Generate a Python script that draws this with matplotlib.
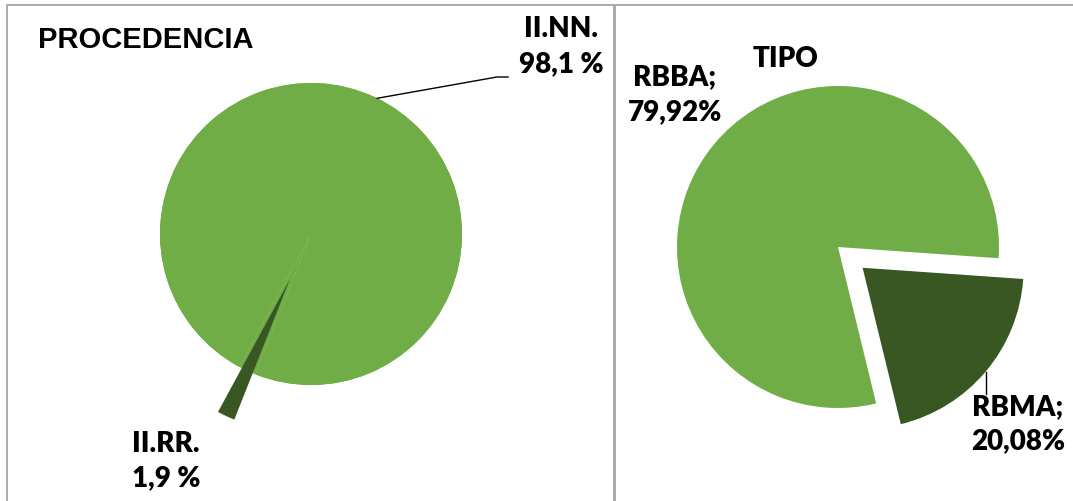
import numpy as np
import matplotlib.pyplot as plt
from matplotlib.patches import Rectangle, Shadow

# datos
procedencia = ["II.NN.", "II.RR."]
procedencia_pct = [98.1, 1.9]
tipo = ["RBBA", "RBMA"]
tipo_pct = [79.92, 20.08]

verde = "#70AD47"
verde_osc = "#385723"
borde = "#a6a6a6"
fuente = "Lato"
peso = "heavy"

W, H = 1073, 502
fig = plt.figure(figsize=(W / 100, H / 100), dpi=100)


def ejes(cx, cy, r):
    """ejes sobre toda la figura, 1 unidad = r px, centro en el pixel (cx, cy)"""
    ax = fig.add_axes([0, 0, 1, 1])
    ax.axis("off")
    lims = dict(xlim=(-cx / r, (W - cx) / r), ylim=(-(H - cy) / r, cy / r))
    return ax, lims, lambda x, y: ((x - cx) / r, (cy - y) / r)


def sombras(ax, wedges):
    for w in wedges:
        ax.add_patch(Shadow(w, 2.5, -3, facecolor="#a0a0a0", edgecolor="none", alpha=0.45))


def pct(v, sep=""):
    return f"{v:.{1 if sep else 2}f}".replace(".", ",") + sep + "%"


# --- PROCEDENCIA ---
ax1, lim1, p1 = ejes(311, 235, 151)
# base sin separar (en Excel el hueco del sector separado queda verde)
base, _ = ax1.pie(procedencia_pct, colors=[verde, verde], startangle=248.4,
                  counterclock=True, radius=1, wedgeprops=dict(linewidth=0))
sombras(ax1, base)
w1, _ = ax1.pie(procedencia_pct, colors=[verde, verde_osc], startangle=248.4,
                counterclock=True, explode=[0, 0.33], radius=1,
                wedgeprops=dict(linewidth=0))
ax1.add_patch(Shadow(w1[1], 2.5, -3, facecolor="#a0a0a0", edgecolor="none", alpha=0.45))
ax1.set(**lim1)
ax1.set_aspect("auto")

ax1.text(*p1(38, 48), "PROCEDENCIA", family="Liberation Sans", weight="bold",
         fontsize=21, ha="left", va="baseline")

# etiqueta II.NN. con línea guía
a = np.deg2rad(64)
codo = p1(497, 78)
fin = p1(508, 78)
ax1.plot([np.cos(a), codo[0], fin[0]], [np.sin(a), codo[1], fin[1]], color="black", lw=1)
ax1.text(*p1(561, 37), procedencia[0], family=fuente, weight=peso, fontsize=20,
         ha="center", va="baseline")
ax1.text(*p1(561, 72), pct(procedencia_pct[0], " "), family=fuente,
         weight=peso, fontsize=20, ha="center", va="baseline")

ax1.text(*p1(132, 452), procedencia[1], family=fuente, weight=peso, fontsize=20,
         ha="left", va="baseline")
ax1.text(*p1(132, 486), pct(procedencia_pct[1], " "), family=fuente, weight=peso,
         fontsize=20, ha="left", va="baseline")

# --- TIPO ---
ax2, lim2, p2 = ejes(838, 248, 161)
w2, _ = ax2.pie(tipo_pct, colors=[verde, verde_osc], startangle=-4,
                counterclock=True, explode=[0, 0.2], radius=1,
                wedgeprops=dict(linewidth=0))
sombras(ax2, w2)
ax2.set(**lim2)
ax2.set_aspect("auto")

ax2.text(*p2(785, 67), "TIPO", family=fuente, weight=peso, fontsize=20,
         ha="center", va="baseline")
ax2.text(*p2(675, 85), tipo[0] + ";", family=fuente, weight=peso, fontsize=20,
         ha="center", va="baseline")
ax2.text(*p2(675, 120), pct(tipo_pct[0]), family=fuente, weight=peso, fontsize=20,
         ha="center", va="baseline")

# línea guía RBMA desde el centro del arco
wm = w2[1]
am = np.deg2rad((wm.theta1 + wm.theta2) / 2)
x0 = wm.center[0] + np.cos(am)
y0 = wm.center[1] + np.sin(am)
ax2.plot([x0, x0], [y0, p2(0, 395)[1]], color="black", lw=1)
ax2.text(*p2(1018, 415), tipo[1] + ";", family=fuente, weight=peso, fontsize=20,
         ha="center", va="baseline")
ax2.text(*p2(1018, 449), pct(tipo_pct[1]), family=fuente, weight=peso, fontsize=20,
         ha="center", va="baseline")

# marcos de los dos gráficos
fig.add_artist(Rectangle((7 / W, -0.1), (614 - 7) / W, (H - 6) / H + 0.1,
                         transform=fig.transFigure, fill=False, edgecolor=borde, lw=1.3))
fig.add_artist(Rectangle((615 / W, -0.1), 1.0, (H - 6) / H + 0.1,
                         transform=fig.transFigure, fill=False, edgecolor=borde, lw=1.3))

fig.savefig("out.png", dpi=100)
